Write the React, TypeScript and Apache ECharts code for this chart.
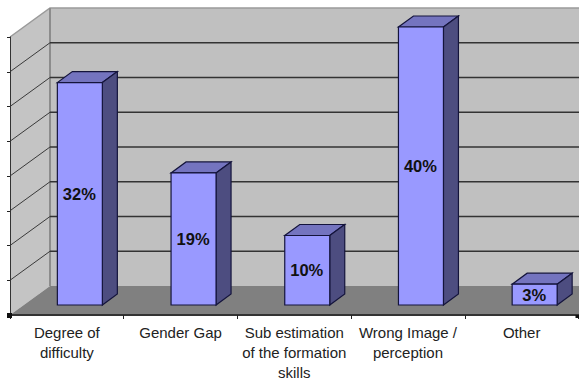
import React, { useEffect, useRef } from "react";
import * as echarts from "echarts";

const categories = [
  "Degree of\ndifficulty",
  "Gender Gap",
  "Sub estimation\nof the formation\nskills",
  "Wrong Image /\nperception",
  "Other",
];
const shares = [32, 19, 10, 40, 3];
const gridValues = [5, 10, 15, 20, 25, 30, 35, 40];

// Oblique projection of the 3D box: floor depth and the bar's own depth, in px.
const WALL_DX = 40;
const WALL_DY = -29;
const BAR_OFFSET_X = 13;
const BAR_OFFSET_Y = -10;
const BAR_WIDTH = 45;
const BAR_DX = 15;
const BAR_DY = -11;

const FONT = "'Liberation Sans', Arial, sans-serif";

function renderWalls(params: any, api: any) {
  const cs = params.coordSys;
  const left = cs.x;
  const right = cs.x + cs.width + 4;
  const bottom = cs.y + cs.height;
  const top = cs.y;
  const bx = left + WALL_DX;
  const topBack = top + WALL_DY;
  const botBack = bottom + WALL_DY;
  return {
    type: "group",
    children: [
      {
        type: "polygon",
        shape: { points: [[bx, topBack], [right, topBack], [right, botBack], [bx, botBack]] },
        style: { fill: "#c0c0c0", stroke: "none" },
      },
      {
        type: "polygon",
        shape: { points: [[left, top], [bx, topBack], [bx, botBack], [left, bottom]] },
        style: { fill: "#c4c4c4", stroke: "none" },
      },
      {
        type: "polygon",
        shape: { points: [[left, bottom], [bx, botBack], [right, botBack], [right, bottom]] },
        style: { fill: "#808080", stroke: "none" },
      },
      {
        type: "polyline",
        shape: { points: [[left, top], [bx, topBack], [right, topBack]] },
        style: { fill: "none", stroke: "#9a9a9a", lineWidth: 1.5 },
      },
      {
        type: "line",
        shape: { x1: bx, y1: topBack, x2: bx, y2: botBack },
        style: { stroke: "#8c8c8c", lineWidth: 2 },
      },
    ],
  };
}

function renderGridLine(params: any, api: any) {
  const value = api.value(1);
  const [, y0] = api.coord([0, value]);
  const cs = params.coordSys;
  const left = cs.x;
  const bx = left + WALL_DX;
  const right = cs.x + cs.width + 4;
  const y = y0 + WALL_DY;
  if (value >= gridValues[gridValues.length - 1]) return { type: "group", children: [] };
  return {
    type: "group",
    children: [
      {
        type: "line",
        shape: { x1: left, y1: y0, x2: bx, y2: y },
        style: { stroke: "#3a3a3a", lineWidth: 1 },
      },
      {
        type: "line",
        shape: { x1: bx, y1: y, x2: right, y2: y },
        style: { stroke: "#333333", lineWidth: 1.6 },
      },
    ],
  };
}

function renderBar(params: any, api: any) {
  const idx = api.value(0);
  const value = api.value(1);
  const [cx, yTop] = api.coord([idx, value]);
  const [, yBase] = api.coord([idx, 0]);
  const x1 = cx - BAR_WIDTH / 2 + BAR_OFFSET_X;
  const x2 = x1 + BAR_WIDTH;
  const t = yTop + BAR_OFFSET_Y;
  const b = yBase + BAR_OFFSET_Y;
  const stroke = "#14143c";
  return {
    type: "group",
    children: [
      {
        type: "polygon",
        shape: { points: [[x1, t], [x2, t], [x2 + BAR_DX, t + BAR_DY], [x1 + BAR_DX, t + BAR_DY]] },
        style: { fill: "#7474bf", stroke, lineWidth: 1.2 },
      },
      {
        type: "polygon",
        shape: { points: [[x2, t], [x2 + BAR_DX, t + BAR_DY], [x2 + BAR_DX, b + BAR_DY], [x2, b]] },
        style: { fill: "#4d4d80", stroke, lineWidth: 1.2 },
      },
      {
        type: "rect",
        shape: { x: x1, y: t, width: BAR_WIDTH, height: b - t },
        style: { fill: "#9999ff", stroke, lineWidth: 1.2 },
      },
      {
        type: "text",
        style: {
          text: `${value}%`,
          x: (x1 + x2) / 2 - 0.5,
          y: (t + b) / 2,
          align: "center",
          verticalAlign: "middle",
          font: `bold 16.5px ${FONT}`,
          fill: "#111111",
        },
      },
    ],
  };
}

// Small square marks at both ends of the category axis.
function renderAxisEnds(params: any) {
  const cs = params.coordSys;
  const y = cs.y + cs.height;
  return {
    type: "group",
    children: [
      { type: "rect", shape: { x: cs.x - 3, y: y - 2, width: 5, height: 5 }, style: { fill: "#111111" } },
      { type: "rect", shape: { x: cs.x + cs.width - 3, y: y, width: 4, height: 3 }, style: { fill: "#111111" } },
    ],
  };
}

export default function App() {
  const ref = useRef<HTMLDivElement>(null);

  useEffect(() => {
    const chart = echarts.init(ref.current!, null, { renderer: "svg" });
    chart.setOption({
      animation: false,
      backgroundColor: "#ffffff",
      grid: { left: 10, top: 37, width: 568.5, height: 278, containLabel: false, outerBoundsMode: "none" },
      xAxis: {
        type: "category",
        data: categories,
        axisLine: { show: true, lineStyle: { color: "#333333", width: 2 } },
        axisTick: { show: true, length: 4, lineStyle: { color: "#222222" } },
        axisLabel: {
          interval: 0,
          margin: 7,
          color: "#222222",
          fontFamily: FONT,
          fontSize: 15,
          lineHeight: 20,
        },
        z: 5,
      },
      yAxis: {
        type: "value",
        min: 0,
        max: 40,
        interval: 5,
        axisLine: { show: true, lineStyle: { color: "#333333", width: 1 } },
        axisTick: { show: true, length: 3, lineStyle: { color: "#222222" } },
        axisLabel: { show: false },
        splitLine: { show: false },
        z: 5,
      },
      series: [
        {
          type: "custom",
          coordinateSystem: "cartesian2d",
          renderItem: renderWalls,
          data: [[0, 0]],
          silent: true,
          clip: false,
          z: 1,
        },
        {
          type: "custom",
          coordinateSystem: "cartesian2d",
          renderItem: renderGridLine,
          data: gridValues.map((v) => [0, v]),
          silent: true,
          clip: false,
          z: 2,
        },
        {
          type: "custom",
          coordinateSystem: "cartesian2d",
          renderItem: renderBar,
          data: shares.map((v, i) => [i, v]),
          clip: false,
          z: 3,
        },
        {
          type: "custom",
          coordinateSystem: "cartesian2d",
          renderItem: renderAxisEnds,
          data: [[0, 0]],
          silent: true,
          clip: false,
          z: 6,
        },
      ],
    });
    return () => chart.dispose();
  }, []);

  return (
    <div
      ref={ref}
      style={{ position: "fixed", left: 0, top: 0, width: 579, height: 380 }}
    />
  );
}
